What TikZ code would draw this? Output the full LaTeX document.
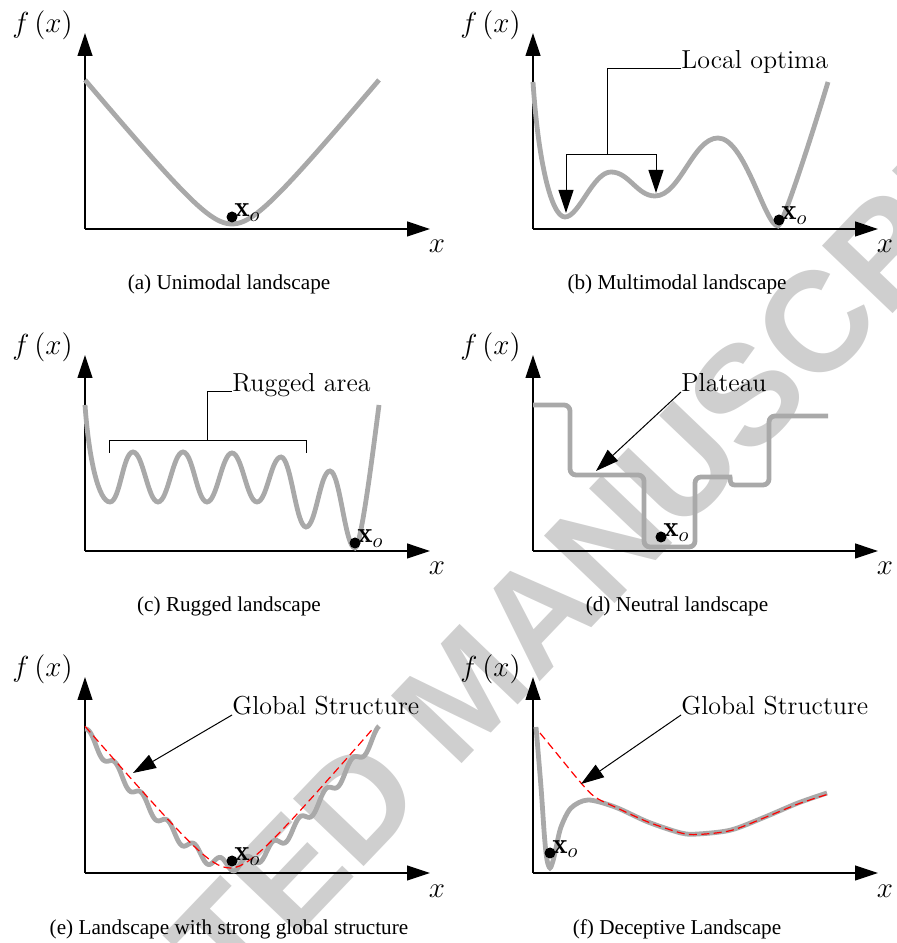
\RequirePackage{fix-cm}
\documentclass[tikz,border=0pt]{standalone}
\usepackage{fontspec}
\usepackage{amsmath}
\usetikzlibrary{arrows.meta}
\newfontfamily\capfont{Liberation Serif}
\newfontfamily\wmfont{Liberation Sans}
\definecolor{curve}{HTML}{A9A9A9}
\definecolor{wmark}{HTML}{CFCFCF}
\newcommand{\lbl}{\fontsize{13}{15}\selectfont}
\newcommand{\mlbl}{\fontsize{14.5}{16}\selectfont}
\newcommand{\capt}{\capfont\fontsize{10.6}{12}\selectfont}

\begin{document}
\begin{tikzpicture}[x=0.5pt,y=0.5pt,
  ax/.style={-{Triangle[length=11.5pt,width=7.5pt]},line width=0.6pt},
  ptr/.style={-{Triangle[length=11.5pt,width=7.5pt]},line width=0.5pt},
  land/.style={draw=curve,line width=2.4pt},
  trend/.style={draw=red,line width=0.6pt,dash pattern=on 4pt off 2.2pt},
  opt/.style={circle,fill=black,inner sep=0pt,minimum size=5.5pt},
  tag/.style={font=\lbl,inner sep=0pt,anchor=base west},
  xo/.style={font=\mlbl,inner sep=0pt,anchor=base west},
  figcap/.style={font=\capt,inner sep=0pt,anchor=base}]
\useasboundingbox (0,0) rectangle (896,943);
% watermark
\begin{scope}
\clip (0,0) rectangle (896,943);
\node[rotate=46.3,text=wmark,inner sep=0pt,
  font=\wmfont\bfseries\fontsize{71}{71}\selectfont] (wm) at (464,252) {ACCEPTED MANUSCRIPT};
\end{scope}
% axes, labels, captions
\foreach \p/\ox/\oy/\txt in {a/85/714/Unimodal landscape,b/533/714/Multimodal landscape,
    c/85/392/Rugged landscape,d/533/392/Neutral landscape,
    e/85/70/Landscape with strong global structure,f/533/70/Deceptive Landscape}{
  \begin{scope}[shift={(\ox,\oy)}]
  \coordinate (o\p) at (0,0);
  \coordinate (y\p) at (0,196);
  \coordinate (x\p) at (345,0);
  \draw[ax] (o\p) -- (y\p);
  \draw[ax] (o\p) -- (x\p);
  \node[font=\mlbl,inner sep=0pt,anchor=base east] (fx\p) at (-12,196) {$f\left(x\right)$};
  \node[font=\mlbl,inner sep=0pt,anchor=base] (xl\p) at (352,-24) {$x$};
  \node[figcap] (cap\p) at (144,-61) {(\p) \txt};
  \end{scope}
}
% (a) unimodal
\begin{scope}[shift={(85,714)}]
\draw[land] plot[domain=0:294,samples=90] (\x,{5+12*(sqrt(((\x-147)/10)^2+9)-3)});
\node[opt] (da) at (147,12) {};
\node[xo] (xoa) at ([xshift=1pt]da.center) {$\mathbf{x}_o$};
\end{scope}
% (b) multimodal
\begin{scope}[shift={(533,714)}]
\draw[land] (0,147) .. controls (5,70) and (18,12) .. (32,12)
  .. controls (46,12) and (60,57) .. (78,57)
  .. controls (96,57) and (104,33) .. (122,33)
  .. controls (147,33) and (160,91) .. (185,91)
  .. controls (212,91) and (232,3) .. (245,3)
  .. controls (250,3) and (283,107) .. (295,147);
\node[opt] (db) at (246,9) {};
\node[xo] (xob) at ([xshift=1pt]db.center) {$\mathbf{x}_o$};
\node[tag] (lo) at (148,160) {Local optima};
\coordinate (lo1) at (33,16);
\coordinate (lo2) at (123,36);
\coordinate (lom) at (74,74);
\draw[line width=0.5pt] (lo.base west) -| (lom);
\draw[ptr] (lom) -| (lo1);
\draw[ptr] (lom) -| (lo2);
\end{scope}
% (c) rugged
\begin{scope}[shift={(85,392)}]
\draw[land] (0,146) .. controls (4,90) and (14,49) .. (25,49)
  .. controls (35,49) and (38,99) .. (48,99)
  .. controls (58,99) and (63,49) .. (73,49)
  .. controls (83,49) and (88,99) .. (98,99)
  .. controls (108,99) and (112,49) .. (122,49)
  .. controls (132,49) and (137,98) .. (147,98)
  .. controls (157,98) and (162,49) .. (172,49)
  .. controls (182,49) and (186,94) .. (196,94)
  .. controls (206,94) and (211,24) .. (221,24)
  .. controls (231,24) and (235,80) .. (245,80)
  .. controls (255,80) and (260,3) .. (270,3)
  .. controls (276,3) and (288,100) .. (294,146);
\node[opt] (dc) at (270,8) {};
\node[xo] (xoc) at ([xshift=1pt]dc.center) {$\mathbf{x}_o$};
\node[tag] (ra) at (147,159) {Rugged area};
\draw[line width=0.5pt] (ra.base west) -| (122,110);
\draw[line width=0.5pt] (24,98) |- (221,110) -- (221,98);
\end{scope}
% (d) neutral
\begin{scope}[shift={(533,392)}]
\draw[land,rounded corners=3pt] (0,146) -- (37,146) -- (37,76) -- (111,76) -- (111,4)
  -- (162,4) -- (162,74) -- (191,74) [sharp corners]
  .. controls (198,74) and (195,66) .. (202,66) [rounded corners=3pt]
  -- (236,66) -- (236,135) -- (295,135);
\node[opt] (dd) at (128,14) {};
\node[xo] (xod) at ([xshift=1pt]dd.center) {$\mathbf{x}_o$};
\node[tag] (pl) at (148,159) {Plateau};
\coordinate (plt) at (63,80);
\draw[ptr] (pl.base west) -- (plt);
\end{scope}
% (e) strong global structure
\begin{scope}[shift={(85,70)}]
\draw[land] plot[domain=0:294,samples=220,smooth]
  (\x,{8+13.05*(sqrt(((\x-147)/10)^2+30.25)-5.5)+6*sin(13.714*(\x-24))});
\draw[trend] plot[domain=0:288,samples=70]
  (\x,{5+11.6*(sqrt(((\x-145)/10)^2+6.25)-2.5)});
\node[opt] (de) at (147,12) {};
\node[xo] (xoe) at ([xshift=1pt]de.center) {$\mathbf{x}_o$};
\node[tag] (gse) at (147,158) {Global Structure};
\coordinate (gsa) at (48,100);
\draw[ptr] (gse.base west) -- (gsa);
\end{scope}
% (f) deceptive
\begin{scope}[shift={(533,70)}]
\draw[land] plot[smooth] coordinates {(3,146) (8,86) (11.5,36) (14,13) (17,5) (20,12)
  (23,25) (28,46) (38,65) (55,73) (82,66) (115,51) (148,40) (165,39) (198,43)
  (232,56) (265,70) (294,80)};
\draw[trend] plot[smooth] coordinates {(7,140) (25,118) (48,90) (62,76) (82,66)
  (115,51) (148,40) (165,38.5) (198,42.5) (232,55.5) (265,69) (294,78.5)};
\node[opt] (df) at (17,20) {};
\node[xo] (xof) at ([xshift=1pt]df.center) {$\mathbf{x}_o$};
\node[tag] (gsf) at (148,158) {Global Structure};
\coordinate (gsb) at (48,89);
\draw[ptr] (gsf.base west) -- (gsb);
\end{scope}
\end{tikzpicture}
\end{document}
